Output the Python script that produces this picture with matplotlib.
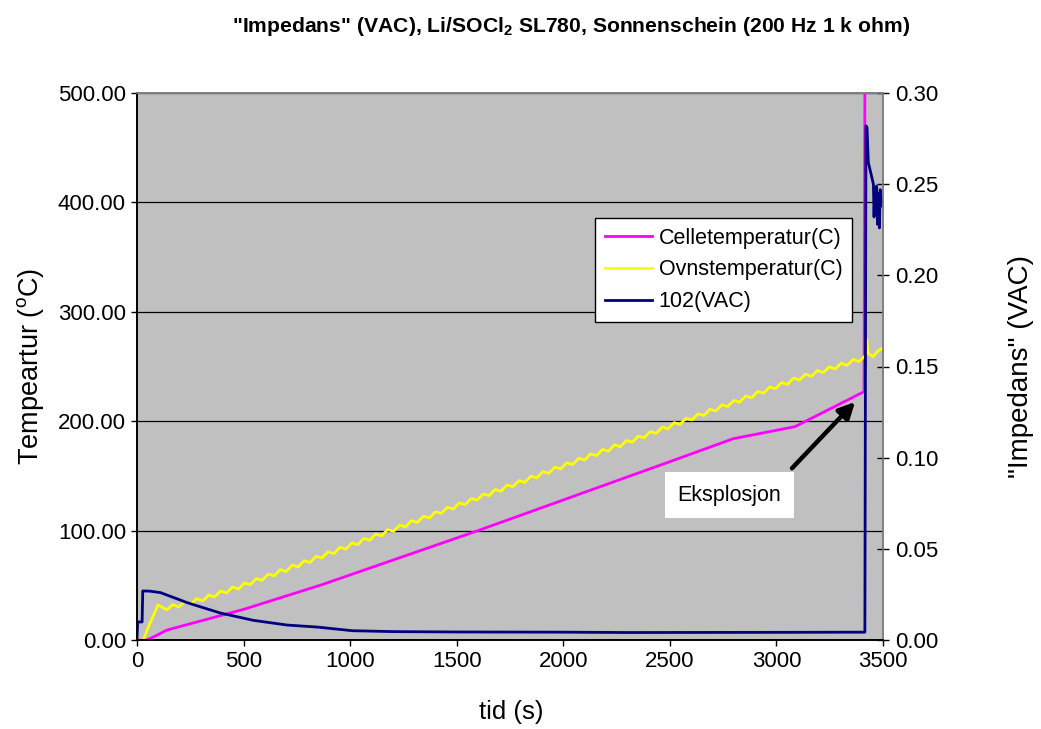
import numpy as np
import matplotlib
matplotlib.use("Agg")
import matplotlib.pyplot as plt

plt.rcParams['font.family'] = ['Liberation Sans', 'DejaVu Sans']
plt.rcParams['mathtext.fontset'] = 'custom'
plt.rcParams['mathtext.rm'] = 'Liberation Sans'
plt.rcParams['mathtext.bf'] = 'Liberation Sans:bold'

# ---------------- data ----------------
cell_t = [0, 47, 100, 139, 500, 859, 1000, 1600, 2000, 2500, 2797, 3087, 3411, 3418, 3500]
cell_v = [0, 0, 5, 9, 28, 50, 59.5, 100, 128, 163, 184, 195, 227, 700, 700]

oven_head_t = [0, 30, 60, 99]
oven_head_v = [0, 0, 15, 32]
oven_step = 28  # sampling interval (s) of the regular part, starting at 140 s
oven_mid_v = [
    27.5, 32.4, 30.2, 35.1, 32.9, 37.8, 35.7, 41.1, 39.4, 44.8,
    43.0, 48.4, 46.6, 52.1, 50.5, 56.2, 54.6, 60.2, 58.7, 64.3,
    62.7, 68.4, 66.8, 72.4, 70.9, 76.5, 75.0, 80.6, 79.0, 84.7,
    83.1, 88.7, 87.2, 92.8, 91.2, 96.9, 95.3, 100.9, 99.4, 105.0,
    103.5, 109.1, 107.5, 113.2, 111.6, 117.2, 115.7, 121.3, 119.7, 125.4,
    123.8, 129.4, 127.9, 133.5, 132.0, 137.6, 136.0, 141.7, 140.1, 145.7,
    144.2, 149.8, 148.2, 153.9, 152.3, 157.9, 156.4, 162.0, 160.4, 166.1,
    164.5, 170.2, 168.6, 174.2, 172.7, 178.3, 176.7, 182.4, 180.8, 186.4,
    184.9, 190.5, 188.9, 194.6, 193.0, 198.7, 197.1, 202.7, 201.2, 206.8,
    205.2, 210.9, 209.3, 214.9, 213.4, 219.0, 217.4, 223.1, 221.5, 227.2,
    225.6, 231.2, 229.7, 235.3, 233.7, 239.4, 237.7, 243.0, 241.0, 246.3,
    244.4, 249.7, 247.8, 253.0, 251.1, 256.4, 254.5, 259.8,
]
oven_tail_t = [3422, 3424, 3431, 3453, 3475, 3494, 3500]
oven_tail_v = [262, 275, 262, 259, 264, 266.5, 265]

imp_t = [0, 3, 24, 27, 60, 110, 240, 391, 545, 704, 845, 1010, 1200, 1500, 2000,
         2300, 3000, 3415, 3420, 3425, 3431, 3447, 3455, 3458, 3462, 3466, 3470,
         3474, 3478, 3483, 3487, 3492, 3497, 3500]
imp_v = [0.001, 0.0099, 0.0099, 0.0269, 0.0268, 0.026, 0.0203, 0.0148, 0.0108,
         0.0082, 0.0071, 0.0051, 0.0046, 0.0044, 0.0043, 0.0041, 0.0042, 0.0043,
         0.282, 0.281, 0.262, 0.254, 0.250, 0.232, 0.248, 0.236, 0.249, 0.228,
         0.245, 0.226, 0.247, 0.238, 0.242, 0.239]

left_ticks = [0, 100, 200, 300, 400, 500]
right_ticks = [0, 0.05, 0.10, 0.15, 0.20, 0.25, 0.30]
x_ticks = [0, 500, 1000, 1500, 2000, 2500, 3000, 3500]

note_text = 'Eksplosjon'
note_text_pos = (2780, 132.5)
note_arrow_tail = (3073, 157)
note_arrow_tip = (3369, 217.6)

oven_mid_t = list(140 + oven_step * np.arange(len(oven_mid_v)))
oven_t = oven_head_t + oven_mid_t + oven_tail_t
oven_v = oven_head_v + oven_mid_v + oven_tail_v

# ---------------- figure ----------------
W, H = 1041, 729
fig = plt.figure(figsize=(W / 100, H / 100), dpi=100)
L, R, T, B = 137, 883, 93, 640
ax1 = fig.add_axes([L / W, 1 - B / H, (R - L) / W, (B - T) / H])
ax1.set_facecolor('#C0C0C0')
ax2 = ax1.twinx()
ax2.patch.set_visible(False)

fs_tick = 16
fs_leg = 15.5

l1, = ax1.plot(cell_t, cell_v, color='#FF00FF', lw=2, label='Celletemperatur(C)')
l2, = ax1.plot(oven_t, oven_v, color='#FFFF00', lw=2, label='Ovnstemperatur(C)')
l3, = ax2.plot(imp_t, imp_v, color='#000080', lw=2, label='102(VAC)')

ax1.set_xlim(0, 3500)
ax1.set_ylim(0, 500)
ax2.set_ylim(0, 0.3)
ax1.set_xticks(x_ticks)
ax1.set_xticklabels([str(v) for v in x_ticks], fontsize=fs_tick)
ax1.set_yticks(left_ticks)
ax1.set_yticklabels(['%.2f' % v for v in left_ticks], fontsize=fs_tick)
ax2.set_yticks(right_ticks)
ax2.set_yticklabels(['%.2f' % v for v in right_ticks], fontsize=fs_tick)

ax1.yaxis.grid(True, color='black', lw=0.9)
ax1.set_axisbelow(True)

ax1.tick_params(axis='both', direction='out', length=4, width=1, pad=4)
ax2.tick_params(axis='y', direction='inout', length=9, width=1, pad=4)

for ax in (ax1, ax2):
    ax.spines['top'].set_color('#808080')
    ax.spines['right'].set_color('#808080')
    ax.spines['left'].set_color('black')
    ax.spines['bottom'].set_color('black')
    for s in ax.spines.values():
        s.set_linewidth(1.2)

# legend
leg = ax2.legend(handles=[l1, l2, l3], loc='upper left',
                 bbox_to_anchor=(595 / W, 1 - 218 / H), bbox_transform=fig.transFigure,
                 borderaxespad=0, fontsize=fs_leg, frameon=True, fancybox=False,
                 handlelength=2.2, handletextpad=0.3, labelspacing=0.5,
                 borderpad=0.45)
leg.get_frame().set_edgecolor('black')
leg.get_frame().set_linewidth(1)
leg.get_frame().set_facecolor('white')
leg.get_frame().set_alpha(1)

# annotation: text box + arrow
ax2.text(note_text_pos[0], note_text_pos[1], note_text, transform=ax1.transData,
         ha='center', va='center', fontsize=fs_leg,
         bbox=dict(boxstyle='square,pad=0.6', fc='white', ec='none'))
ax2.annotate('', xy=note_arrow_tip, xycoords=ax1.transData,
             xytext=note_arrow_tail, textcoords=ax1.transData,
             arrowprops=dict(arrowstyle='-|>', color='black', lw=3.2,
                             mutation_scale=24, shrinkA=0, shrinkB=0))

# texts
fig.text(571 / W, 1 - 27 / H,
         '"Impedans" (VAC), Li/SOCl$_\\mathbf{2}$ SL780, Sonnenschein (200 Hz 1 k ohm)',
         ha='center', va='center', fontsize=15.2, fontweight='bold')
fig.text(511 / W, 1 - 712 / H, 'tid (s)', ha='center', va='center', fontsize=18.5)
fig.text(31 / W, 1 - 366 / H, 'Tempeartur ($^\\mathrm{o}$C)', ha='center', va='center',
         rotation=90, fontsize=19.5)
fig.text(1021 / W, 1 - 366 / H, '"Impedans" (VAC)', ha='center', va='center',
         rotation=90, fontsize=20)

fig.savefig('out.png', dpi=100)
